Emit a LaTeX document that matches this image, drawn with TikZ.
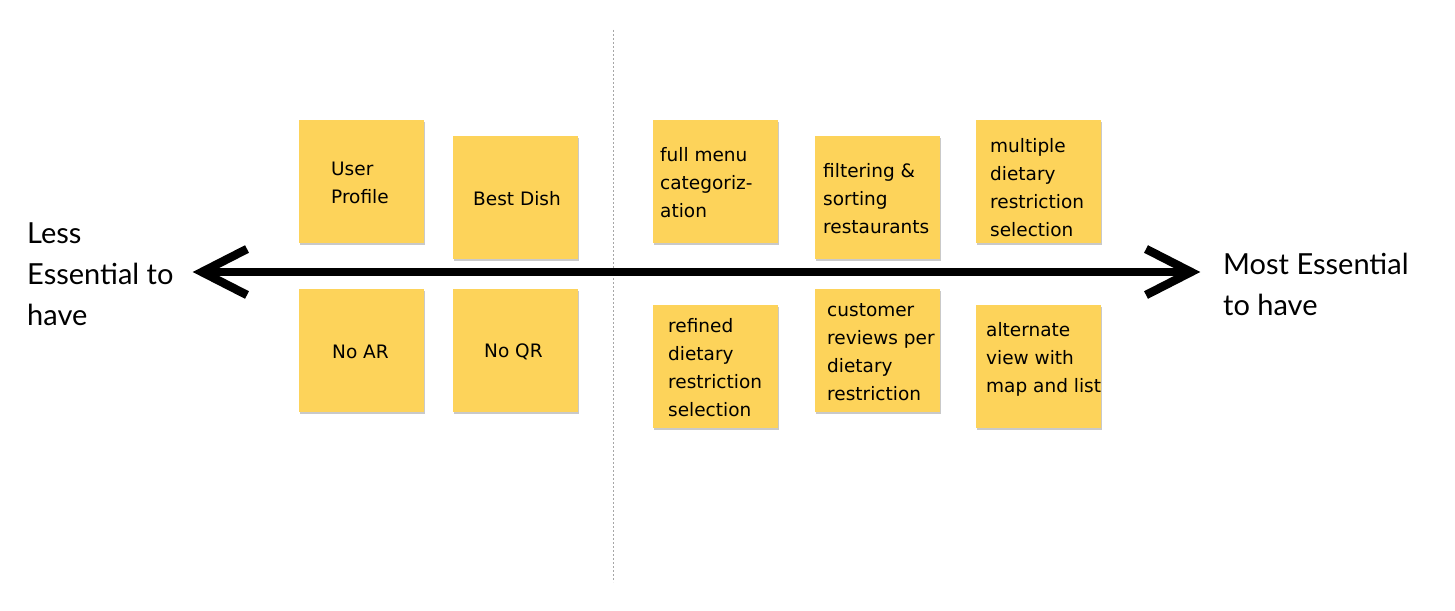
\documentclass[tikz,border=0pt]{standalone}
\usepackage{fontspec}
\setmainfont{Lato}
\newfontfamily\notefont{DejaVu Sans}
\usetikzlibrary{shadows}
\definecolor{sticky}{HTML}{FDD35A}
\begin{document}
\begin{tikzpicture}[x=1pt,y=-1pt,
  note/.style={draw=none,fill=sticky,minimum width=125pt,minimum height=123pt,inner sep=0pt,
    drop shadow={shadow xshift=1pt,shadow yshift=-2pt,opacity=0.35,fill=black!60}},
  notetext/.style={anchor=west,align=left,inner sep=0pt,font=\notefont\fontsize{18.5}{28}\selectfont},
  side/.style={anchor=west,align=left,inner sep=0pt,font=\fontsize{29}{41}\selectfont},
  axis/.style={line width=8.5pt,black},
  divider/.style={gray!70,line width=0.6pt,dash pattern=on 2pt off 2pt}]
\useasboundingbox[fill=white] (0,0) rectangle (1455,610);
% divider
\coordinate (dtop) at (613,30);
\coordinate (dbot) at (613,582);
\draw[divider] (dtop) -- (dbot);
% notes
\node[note,anchor=north west] (n1) at (299,120) {};
\node[note,anchor=north west] (n2) at (453,136) {};
\node[note,anchor=north west] (n3) at (299,289) {};
\node[note,anchor=north west] (n4) at (453,289) {};
\node[note,anchor=north west] (n5) at (653,120) {};
\node[note,anchor=north west] (n6) at (815,136) {};
\node[note,anchor=north west] (n7) at (976,120) {};
\node[note,anchor=north west] (n8) at (653,305) {};
\node[note,anchor=north west] (n9) at (815,289) {};
\node[note,anchor=north west] (n10) at (976,305) {};
% note texts
\node[notetext] (t1) at (331,183) {User\\Profile};
\node[notetext] (t2) at (473,199) {Best Dish};
\node[notetext] (t3) at (332,352) {No AR};
\node[notetext] (t4) at (484,352) {No QR};
\node[notetext] (t5) at (660,183) {full menu\\categoriz-\\ation};
\node[notetext] (t6) at (823,199) {filtering \&\\sorting\\restaurants};
\node[notetext] (t7) at (990,188) {multiple\\dietary\\restriction\\selection};
\node[notetext] (t8) at (668,368) {refined\\dietary\\restriction\\selection};
\node[notetext] (t9) at (827,352) {customer\\reviews per\\dietary\\restriction};
\node[notetext] (t10) at (986,359) {alternate\\view with\\map and list};
% axis
\coordinate (L) at (202,272);
\coordinate (R) at (1191,272);
\draw[axis] (L) -- (R);
\draw[axis,miter limit=10] ([shift={(45,-23)}]L) -- (L) -- ([shift={(45,23)}]L);
\draw[axis,miter limit=10] ([shift={(-45,-23)}]R) -- (R) -- ([shift={(-45,23)}]R);
% side labels
\node[side] (less) at (27,274) {Less\\Essential to\\have};
\node[side] (most) at (1223,284.5) {Most Essential\\to have};
\end{tikzpicture}
\end{document}
